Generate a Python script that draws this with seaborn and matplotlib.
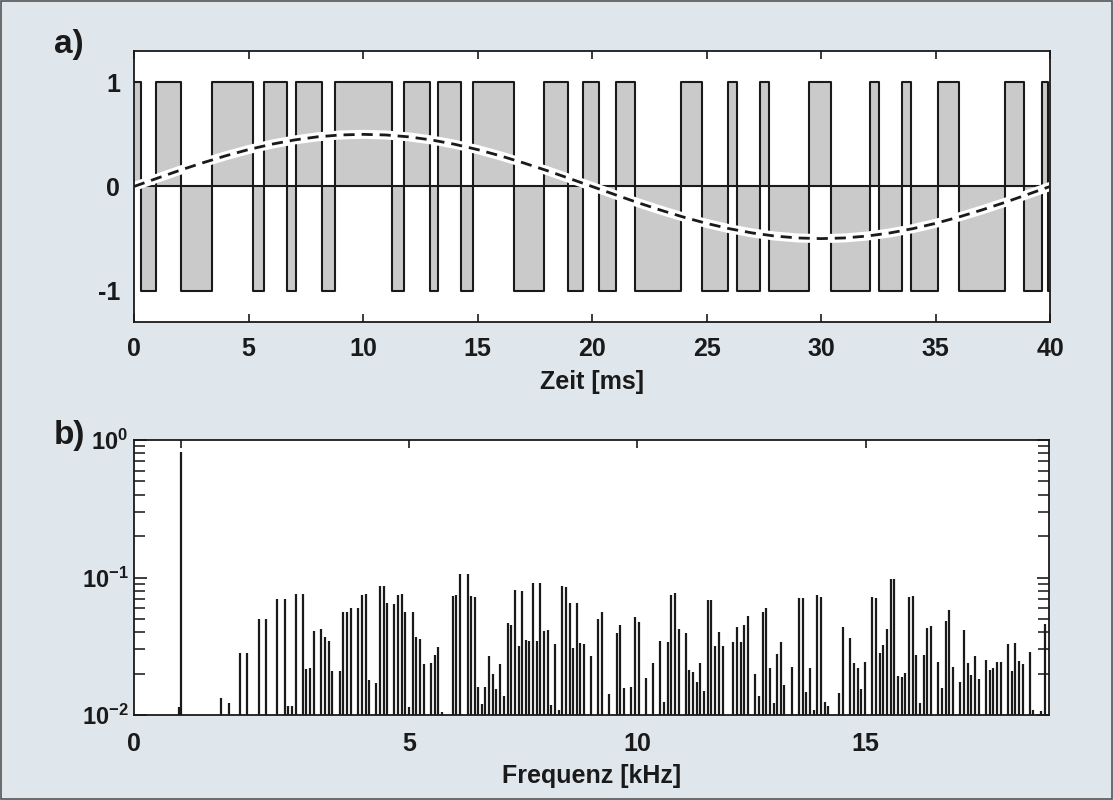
import matplotlib
matplotlib.use("Agg")
import matplotlib.pyplot as plt
import seaborn as sns
import numpy as np
from matplotlib.ticker import FixedLocator, FixedFormatter, LogLocator, NullFormatter

# ---------------- data ----------------
# a) PWM signal: switching instants [ms] and level held after each instant
switch_times = [0, 0.29, 0.97, 2.05, 3.40, 5.20, 5.69, 6.67, 7.07, 8.20, 8.79,
                11.26, 11.80, 12.94, 13.28, 14.30, 14.79, 16.58, 17.89, 18.94,
                19.62, 20.29, 21.05, 21.87, 23.89, 24.81, 25.96, 26.32, 27.35,
                27.75, 29.46, 30.42, 32.15, 32.53, 33.54, 33.93, 35.11, 36.03,
                38.05, 38.87, 39.63, 39.92, 40]
levels = [1, -1, 1, -1, 1, -1, 1, -1, 1, -1, 1, -1, 1, -1, 1, -1, 1, -1, 1, -1,
          1, -1, 1, -1, 1, -1, 1, -1, 1, -1, 1, -1, 1, -1, 1, -1, 1, -1, 1, -1,
          1, -1]

# reference (dashed) curve, read every 1 ms
ref_t = list(range(0, 41))
ref_v = [0, .078, .155, .227, .294, .354, .405, .446, .476, .494, .500,
         .494, .476, .446, .405, .354, .294, .227, .155, .078, 0,
         -.078, -.155, -.227, -.294, -.354, -.405, -.446, -.476, -.494, -.500,
         -.494, -.476, -.446, -.405, -.354, -.294, -.227, -.155, -.078, 0]

# b) spectrum lines: frequency [kHz] and amplitude
freq = [-0.04, 0.0, 0.881, 1.050, 1.297, 1.455, 1.700, 1.860, 2.106, 2.270,
        2.342, 2.423, 2.511, 2.671, 2.741, 2.824, 2.912, 3.072, 3.153, 3.234,
        3.317, 3.475, 3.554, 3.642, 3.723, 3.883, 3.964, 4.045, 4.117, 4.270,
        4.354, 4.439, 4.516, 4.671, 4.759, 4.840, 4.917, 4.993, 5.075, 5.153,
        5.234, 5.315, 5.475, 5.557, 5.635, 5.716, 5.953, 6.034, 6.117, 6.280,
        6.352, 6.433, 6.512, 6.593, 6.665, 6.746, 6.827, 6.906, 6.994, 7.068,
        7.156, 7.235, 7.309, 7.397, 7.476, 7.553, 7.634, 7.715, 7.798, 7.870,
        7.951, 8.032, 8.109, 8.192, 8.274, 8.352, 8.438, 8.515, 8.593, 8.668,
        8.747, 8.828, 8.986, 9.146, 9.229, 9.386, 9.544, 9.623, 9.704, 9.864,
        9.945, 10.026, 10.186, 10.340, 10.504, 10.581, 10.664, 10.745, 10.822, 10.903,
        11.063, 11.139, 11.221, 11.299, 11.380, 11.461, 11.545, 11.621, 11.705, 11.786,
        11.867, 12.097, 12.180, 12.261, 12.338, 12.417, 12.574, 12.658, 12.743, 12.822,
        12.903, 12.984, 13.063, 13.144, 13.221, 13.381, 13.543, 13.626, 13.703, 13.784,
        13.863, 13.940, 14.027, 14.102, 14.185, 14.419, 14.503, 14.662, 14.743, 14.824,
        14.904, 14.985, 15.149, 15.231, 15.309, 15.390, 15.471, 15.548, 15.631, 15.708,
        15.789, 15.868, 15.949, 16.030, 16.107, 16.190, 16.271, 16.350, 16.431, 16.591,
        16.672, 16.753, 16.832, 16.913, 17.066, 17.150, 17.235, 17.314, 17.395, 17.476,
        17.632, 17.717, 17.796, 17.877, 17.958, 18.113, 18.199, 18.278, 18.359, 18.440,
        18.600, 18.677, 18.841, 18.935]
amp = [0.0114, 0.818, 0.0133, 0.0122, 0.0282, 0.0282, 0.0499, 0.0499, 0.0698, 0.0698,
       0.0116, 0.0116, 0.0759, 0.0759, 0.0216, 0.0220, 0.0408, 0.0422, 0.0369, 0.0345,
       0.0209, 0.0209, 0.0561, 0.0561, 0.0600, 0.0600, 0.0746, 0.0759, 0.0180, 0.0171,
       0.0868, 0.0868, 0.0653, 0.0642, 0.0746, 0.0759, 0.0561, 0.0114, 0.0561, 0.0369,
       0.0357, 0.0235, 0.0239, 0.0273, 0.0312, 0.0105, 0.0734, 0.0746, 0.106, 0.106,
       0.0734, 0.0722, 0.0160, 0.0120, 0.0160, 0.0269, 0.0199, 0.0155, 0.0235, 0.0137,
       0.0467, 0.0451, 0.0811, 0.0318, 0.0798, 0.0351, 0.0345, 0.0912, 0.0345, 0.0912,
       0.0408, 0.0415, 0.0118, 0.0328, 0.0109, 0.0868, 0.0853, 0.0653, 0.0307, 0.0653,
       0.0334, 0.0328, 0.0269, 0.0499, 0.0561, 0.0142, 0.0395, 0.0451, 0.0157, 0.0160,
       0.0516, 0.0475, 0.0186, 0.0239, 0.0345, 0.0124, 0.0340, 0.0746, 0.0772, 0.0422,
       0.0395, 0.0212, 0.0206, 0.0174, 0.0239, 0.0149, 0.0686, 0.0686, 0.0318, 0.0401,
       0.0318, 0.0340, 0.0437, 0.0340, 0.0451, 0.0525, 0.0199, 0.0137, 0.0561, 0.0600,
       0.0220, 0.0122, 0.0278, 0.0340, 0.0165, 0.0223, 0.0710, 0.0710, 0.0147, 0.0220,
       0.0109, 0.0746, 0.0722, 0.0124, 0.0116, 0.0145, 0.0437, 0.0363, 0.0239, 0.0220,
       0.0155, 0.0243, 0.0722, 0.0710, 0.0282, 0.0323, 0.0422, 0.0975, 0.0975, 0.0192,
       0.0189, 0.0202, 0.0722, 0.0734, 0.0273, 0.0122, 0.0273, 0.0429, 0.0444, 0.0243,
       0.0157, 0.0483, 0.0580, 0.0223, 0.0174, 0.0415, 0.0239, 0.0195, 0.0269, 0.0183,
       0.0251, 0.0212, 0.0220, 0.0243, 0.0243, 0.0328, 0.0209, 0.0334, 0.0247, 0.0235,
       0.0287, 0.0109, 0.0107, 0.0459]

time_ticks = [0, 5, 10, 15, 20, 25, 30, 35, 40]
level_ticks = [1, 0, -1]
level_labels = ["1", "0", "-1"]
freq_ticks = [0, 5, 10, 15]
freq_labels = ["", "5", "10", "15"]
amp_ticks = [1e-2, 1e-1, 1e0]
amp_labels = [r"$\mathbf{10^{-2}}$", r"$\mathbf{10^{-1}}$", r"$\mathbf{10^{0}}$"]

# ---------------- style ----------------
sns.set_theme(style="ticks")
plt.rcParams["font.family"] = ["Liberation Sans", "DejaVu Sans"]
plt.rcParams["font.weight"] = "bold"
plt.rcParams["mathtext.fontset"] = "custom"
plt.rcParams["mathtext.bf"] = "Liberation Sans:bold"
plt.rcParams["mathtext.rm"] = "Liberation Sans:bold"
plt.rcParams["axes.linewidth"] = 1.3

BG = "#dfe6ec"
FILL = "#cacaca"
INK = "#1a1a1a"
FS = 18

fig = plt.figure(figsize=(11.13, 8.0), dpi=100, facecolor=BG)
fig.patches.append(plt.Rectangle((0.001, 0.001), 0.998, 0.998, transform=fig.transFigure,
                                 fill=False, edgecolor="#555555", lw=1.2))

ax1 = fig.add_axes([0.1204, 0.5975, 0.8230, 0.3388])
ax2 = fig.add_axes([0.1204, 0.10625, 0.8221, 0.34375])
for ax in (ax1, ax2):
    ax.set_facecolor("white")
    for s in ax.spines.values():
        s.set_color(INK)
        s.set_linewidth(1.3)

# ---- panel a ----
step_y = levels + [levels[-1]]
ax1.fill_between(switch_times, step_y, 0, step="post", color=FILL, lw=0)
sns.lineplot(x=switch_times, y=step_y, ax=ax1, drawstyle="steps-post",
             color=INK, lw=1.5, estimator=None, sort=False)
ax1.axhline(0, color=INK, lw=1.5)
sns.lineplot(x=ref_t, y=ref_v, ax=ax1, color="white", lw=6.5, estimator=None, sort=False)
sns.lineplot(x=ref_t, y=ref_v, ax=ax1, color=INK, lw=2.0, linestyle=(0, (4, 2.5)),
             estimator=None, sort=False)
ax1.set_xlim(0, 40)
ax1.set_ylim(-1.3, 1.3)
ax1.xaxis.set_major_locator(FixedLocator(time_ticks))
ax1.set_xticklabels([str(t) for t in time_ticks])
ax1.yaxis.set_major_locator(FixedLocator(level_ticks))
ax1.yaxis.set_major_formatter(FixedFormatter(level_labels))
ax1.tick_params(axis="x", direction="in", top=True, bottom=True, length=6, width=1.2,
                labelsize=FS, pad=11, colors=INK)
ax1.tick_params(axis="y", direction="in", left=True, right=False, length=0,
                labelsize=FS, pad=10, colors=INK)
ax1.set_xlabel("Zeit [ms]", fontsize=FS, fontweight="bold", color=INK, labelpad=6)
ax1.set_ylabel("")

# ---- panel b ----
ax2.vlines(freq, 1e-2, amp, color=INK, lw=1.6)
ax2.set_yscale("log")
ax2.set_ylim(1e-2, 1.0)
ax2.set_xlim(-1.03, 19.02)
ax2.set_xticks(freq_ticks)
ax2.set_xticklabels(freq_labels)
ax2.set_xticks([-1.03], labels=["0"], minor=True)
ax2.tick_params(axis="x", which="major", direction="in", top=True, bottom=False,
                length=6, width=1.2, labelsize=FS, pad=12, colors=INK)
ax2.tick_params(axis="x", which="minor", length=0, labelsize=FS, pad=12, colors=INK)
ax2.yaxis.set_major_locator(FixedLocator(amp_ticks))
ax2.yaxis.set_major_formatter(FixedFormatter(amp_labels))
ax2.yaxis.set_minor_locator(LogLocator(base=10, subs=np.arange(2, 10)))
ax2.yaxis.set_minor_formatter(NullFormatter())
ax2.tick_params(axis="y", which="major", direction="in", left=True, right=True,
                length=9, width=1.2, labelsize=17, pad=4, colors=INK)
ax2.tick_params(axis="y", which="minor", direction="in", left=True, right=True,
                length=8, width=1.2)
ax2.set_xlabel("Frequenz [kHz]", fontsize=FS, fontweight="bold", color=INK, labelpad=6)

fig.text(0.062, 0.944, "a)", fontsize=24, fontweight="bold", color=INK, ha="center", va="center")
fig.text(0.062, 0.456, "b)", fontsize=24, fontweight="bold", color=INK, ha="center", va="center")

fig.savefig("out.png", dpi=100, facecolor=BG)
